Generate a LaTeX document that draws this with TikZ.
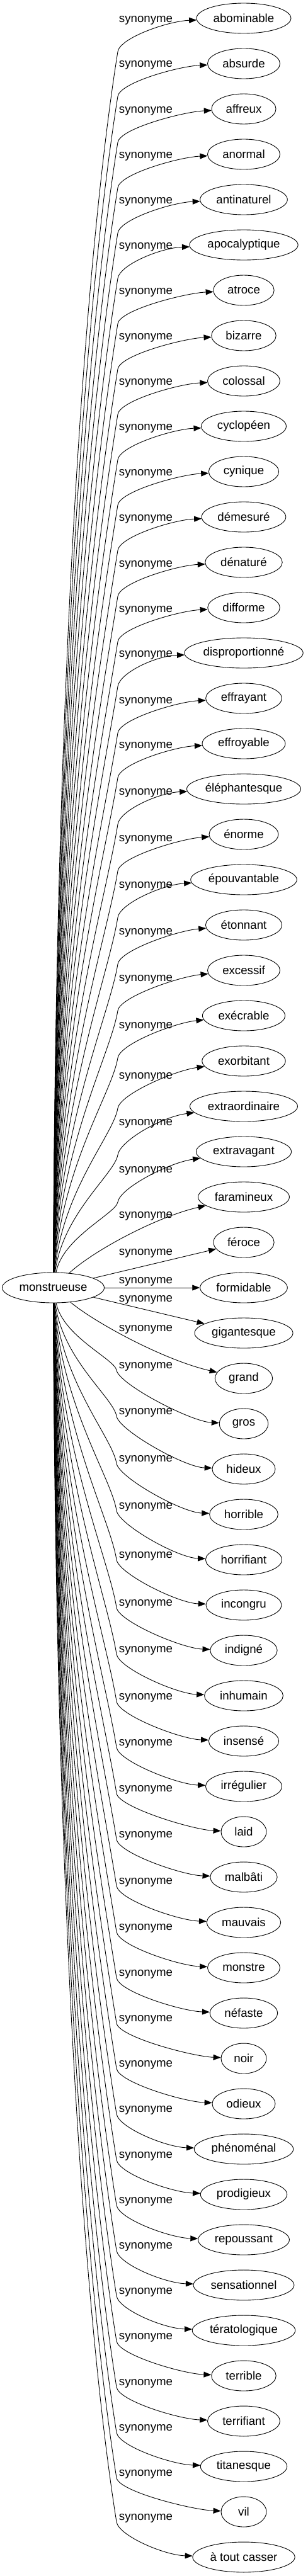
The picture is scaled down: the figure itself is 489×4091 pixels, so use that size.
\documentclass[tikz,border=0pt]{standalone}
\usepackage{fontspec}
\setmainfont{Liberation Sans}
\usetikzlibrary{shapes.geometric}
\usetikzlibrary{arrows.meta}

\tikzset{
  word/.style={draw, ellipse, line width=0.9pt, inner xsep=0pt, minimum height=48pt},
  lab/.style={inner sep=0pt},
  syn/.style={line width=0.9pt, -{Triangle[length=12pt,width=9pt]}},
}

\begin{document}
\fontsize{18.67}{22}\selectfont
\begin{tikzpicture}[x=1pt, y=-1pt]
    \useasboundingbox (0,0) rectangle (489,4091);
    \node[word, minimum width=162pt] (m) at (84.5,2045) {monstrueuse};
    % one row per synonym: word / shift of its label
    \foreach \w/\off [count=\i from 0] in {abominable/1, absurde/0, affreux/1,
        anormal/1, antinaturel/1, apocalyptique/1, atroce/1, bizarre/1,
        colossal/1, cyclopéen/1, cynique/1, démesuré/1, dénaturé/2,
        difforme/2, disproportionné/1, effrayant/3, effroyable/2,
        éléphantesque/4, énorme/6, épouvantable/8, étonnant/10, excessif/12,
        exécrable/15, exorbitant/23, extraordinaire/25, extravagant/28,
        faramineux/28, féroce/15, formidable/-12, gigantesque/-55, grand/-80,
        gros/-93, hideux/-92, horrible/-89, horrifiant/-86, incongru/-80,
        indigné/-76, inhumain/-74, insensé/-71, irrégulier/-70, laid/-69,
        malbâti/-68, mauvais/-66, monstre/-65, néfaste/-64, noir/-64,
        odieux/-64, phénoménal/-64, prodigieux/-63, repoussant/-63,
        sensationnel/-63, tératologique/-63, terrible/-63, terrifiant/-62,
        titanesque/-62, vil/-62, à tout casser/-64} {
      \pgfmathsetmacro\ty{29+72*\i}
      \pgfmathsetmacro\ww{max(72,1.2*width("\w")+34)}
      \pgfmathsetmacro\ly{\ty+\off+2}
      \node[word, minimum width=\ww pt] (w\i) at (387,\ty) {\w};
      \node[lab] (l\i) at (231.5,\ly) {synonyme};
      \pgfmathsetmacro\tx{387-\ww/2-45}
      \ifnum\i<26
        \pgfmathsetmacro\yb{\ty+\off+52}
        \pgfmathsetmacro\dd{2022-\yb}
        \pgfmathsetmacro\hh{0.16*\dd}
        \pgfmathsetmacro\ax{88+12*(1-\dd/2000)}
        \pgfmathsetmacro\ya{2022-0.5*\dd}
        \pgfmathsetmacro\xb{187-0.16*\hh}
        \pgfmathsetmacro\yc{\yb+\hh}
        \pgfmathsetmacro\yd{\yb-22}
        \pgfmathsetmacro\ye{\ty+0.5*\off+4}
        \draw[syn] (m) .. controls (\ax,\ya) and (\xb,\yc) .. (187,\yb)
          .. controls (190.5,\yd) and (\tx,\ye) .. (w\i);
      \fi
      \ifnum\i>30
        \pgfmathsetmacro\yb{\ty+\off+8}
        \pgfmathsetmacro\dd{\yb-2068}
        \pgfmathsetmacro\hh{0.16*\dd}
        \pgfmathsetmacro\ax{88+12*(1-\dd/2000)}
        \pgfmathsetmacro\ya{2068+0.5*\dd}
        \pgfmathsetmacro\xb{185-0.16*\hh}
        \pgfmathsetmacro\yc{\yb-\hh}
        \pgfmathsetmacro\yd{\yb+22}
        \pgfmathsetmacro\ye{\ty-3}
        \draw[syn] (m) .. controls (\ax,\ya) and (\xb,\yc) .. (185,\yb)
          .. controls (188.5,\yd) and (\tx,\ye) .. (w\i);
      \fi
    }
    % the rows next to the source
    \draw[syn] (m) .. controls (150,1985) and (250,1932) .. (w26);
    \draw[syn] (m) -- (w27);
    \draw[syn] (m) -- (w28);
    \draw[syn] (m) -- (w29);
    \draw[syn] (m) .. controls (150,2100) and (260,2160) .. (w30);
\end{tikzpicture}
\end{document}
